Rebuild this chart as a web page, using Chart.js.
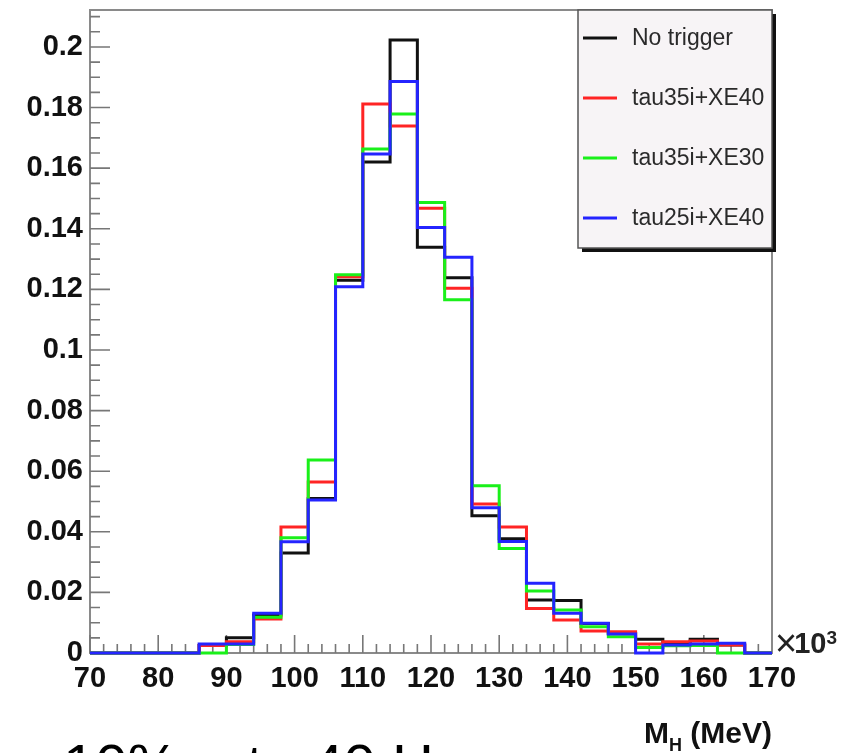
<!DOCTYPE html>
<html>
<head>
<meta charset="utf-8">
<title>M_H distribution by trigger</title>
<script src="https://cdn.jsdelivr.net/npm/chart.js@4.4.1/dist/chart.umd.min.js"></script>
<style>
  html, body { margin: 0; padding: 0; background: #fff; }
  #mh-chart { display: block; }
</style>
</head>
<body>
<canvas id="mh-chart" width="844" height="753"></canvas>
<script>
// Bin edges in units of 10^3 MeV (25 bins, 4 wide)
const binEdges = [70, 74, 78, 82, 86, 90, 94, 98, 102, 106, 110, 114, 118,
                  122, 126, 130, 134, 138, 142, 146, 150, 154, 158, 162, 166, 170];

// Normalised bin contents, one value per bin
const noTrigger = [0, 0, 0, 0, 0.0025, 0.005, 0.0125, 0.033, 0.051, 0.123, 0.162, 0.2023, 0.1339,
                   0.1238, 0.0453, 0.0377, 0.0175, 0.0173, 0.0097, 0.0065, 0.0045, 0.003, 0.0045, 0.0026, 0];
const tau35iXE40 = [0, 0, 0, 0, 0.0025, 0.0037, 0.0112, 0.0416, 0.0564, 0.1242, 0.1812, 0.1739, 0.1468,
                    0.1204, 0.0492, 0.0416, 0.0147, 0.0109, 0.0073, 0.007, 0.003, 0.0037, 0.004, 0.0026, 0];
const tau35iXE30 = [0, 0, 0, 0, 0, 0.0028, 0.0118, 0.038, 0.0637, 0.1248, 0.1663, 0.1779, 0.1487,
                    0.1166, 0.0552, 0.0345, 0.0205, 0.0142, 0.0087, 0.0054, 0.0018, 0.0024, 0.0025, 0, 0];
const tau25iXE40 = [0, 0, 0, 0, 0.003, 0.003, 0.0131, 0.0367, 0.0505, 0.1209, 0.1647, 0.1886, 0.1404,
                    0.1306, 0.0479, 0.0368, 0.023, 0.0131, 0.0098, 0.0063, 0, 0.0026, 0.003, 0.0032, 0];

const seriesLabels = ['No trigger', 'tau35i+XE40', 'tau35i+XE30', 'tau25i+XE40'];
const seriesColors = ['#111111', '#ff2424', '#1af01a', '#2424ff'];
const seriesValues = [noTrigger, tau35iXE40, tau35iXE30, tau25iXE40];

const xTicks = [70, 80, 90, 100, 110, 120, 130, 140, 150, 160, 170];
const yTicks = [0, 0.02, 0.04, 0.06, 0.08, 0.1, 0.12, 0.14, 0.16, 0.18, 0.2];

const FONT = "'Liberation Sans', Arial, Helvetica, sans-serif";
const AXIS_GREY = '#8a8a8a';

// one point per left edge plus the closing right edge, drawn as steps
function histPoints(values) {
  const pts = values.map((v, i) => ({ x: binEdges[i], y: v }));
  pts.push({ x: binEdges[binEdges.length - 1], y: values[values.length - 1] });
  return pts;
}

// ROOT-style ticks pointing into the frame
const innerTicks = {
  id: 'innerTicks',
  beforeDatasetsDraw(chart) {
    const { ctx, chartArea: a, scales: { x, y } } = chart;
    ctx.save();
    ctx.strokeStyle = '#777';
    ctx.lineWidth = 1.6;
    ctx.beginPath();
    for (let v = 70; v <= 170; v += 2) {
      const px = x.getPixelForValue(v);
      const len = v % 10 === 0 ? 18 : 9;
      ctx.moveTo(px, a.bottom);
      ctx.lineTo(px, a.bottom - len);
    }
    for (let k = 0; k <= 42; k++) {
      const py = y.getPixelForValue(k * 0.005);
      const len = k % 4 === 0 ? 20 : 10;
      ctx.moveTo(a.left, py);
      ctx.lineTo(a.left + len, py);
    }
    ctx.stroke();

    // top and right side of the frame
    ctx.strokeStyle = AXIS_GREY;
    ctx.lineWidth = 2;
    ctx.beginPath();
    ctx.moveTo(a.left, a.top);
    ctx.lineTo(a.right, a.top);
    ctx.lineTo(a.right, a.bottom);
    ctx.stroke();
    ctx.restore();
  }
};

// legend box in the top right corner and the axis annotations
const extras = {
  id: 'extras',
  afterDraw(chart) {
    const { ctx, chartArea: a } = chart;
    ctx.save();

    const bx = 578, by = a.top, bw = a.right - 578, bh = 238;
    ctx.fillStyle = '#111';
    ctx.fillRect(bx + 4, by + bh, bw, 4);
    ctx.fillRect(bx + bw, by + 4, 4, bh);
    ctx.fillStyle = '#f7f4f6';
    ctx.fillRect(bx, by, bw, bh);
    ctx.strokeStyle = '#555';
    ctx.lineWidth = 1.5;
    ctx.strokeRect(bx, by, bw, bh);

    ctx.font = '23px ' + FONT;
    ctx.textBaseline = 'middle';
    chart.data.datasets.forEach((ds, i) => {
      const ly = by + 28 + i * 60;
      ctx.strokeStyle = ds.borderColor;
      ctx.lineWidth = 3;
      ctx.beginPath();
      ctx.moveTo(bx + 5, ly);
      ctx.lineTo(bx + 39, ly);
      ctx.stroke();
      ctx.fillStyle = '#2a2a2a';
      ctx.fillText(ds.label, bx + 54, ly + 1);
    });

    // x10^3 exponent next to the x axis
    ctx.fillStyle = '#222';
    ctx.textBaseline = 'alphabetic';
    let tx = a.right + 3;
    ctx.font = '38px ' + FONT;
    ctx.fillText('\u00d7', tx, a.bottom + 3);
    tx += ctx.measureText('\u00d7').width - 3;
    ctx.font = 'bold 29px ' + FONT;
    ctx.fillText('10', tx, a.bottom);
    tx += ctx.measureText('10').width;
    ctx.font = 'bold 19px ' + FONT;
    ctx.fillText('3', tx, a.bottom - 9);

    // axis title M_H (MeV), right aligned with the frame
    ctx.fillStyle = '#111';
    ctx.font = 'bold 30px ' + FONT;
    const rest = ' (MeV)';
    const restW = ctx.measureText(rest).width;
    ctx.fillText(rest, a.right - restW, 743);
    ctx.font = 'bold 18px ' + FONT;
    const hW = ctx.measureText('H').width;
    ctx.fillText('H', a.right - restW - hW, 751);
    ctx.font = 'bold 30px ' + FONT;
    const mW = ctx.measureText('M').width;
    ctx.fillText('M', a.right - restW - hW - mW, 743);

    // slide caption running off the bottom edge
    ctx.font = '58px ' + FONT;
    ctx.fillStyle = '#000';
    ctx.fillText('10% rate 40 Hz', 63, 785);
    ctx.restore();
  }
};

const datasets = seriesValues.map((vals, i) => ({
  label: seriesLabels[i],
  data: histPoints(vals),
  borderColor: seriesColors[i],
  backgroundColor: seriesColors[i],
  borderWidth: 3,
  stepped: 'before',
  pointRadius: 0,
  fill: false,
  clip: 6,
  order: seriesValues.length - i,
}));

new Chart(document.getElementById('mh-chart'), {
  type: 'line',
  data: { datasets },
  options: {
    responsive: false,
    animation: false,
    devicePixelRatio: 1,
    layout: { padding: { top: 10, right: 72, left: 0, bottom: 0 } },
    plugins: {
      legend: { display: false },
      tooltip: { enabled: false },
    },
    scales: {
      x: {
        type: 'linear',
        min: xTicks[0],
        max: xTicks[xTicks.length - 1],
        afterFit: s => {
          s.height = 100;
          s.paddingLeft = 0;
          s.paddingRight = 0;
        },
        afterBuildTicks: s => { s.ticks = xTicks.map(v => ({ value: v })); },
        grid: { drawOnChartArea: false, drawTicks: false },
        border: { display: true, color: AXIS_GREY, width: 2 },
        ticks: {
          padding: 9,
          color: '#111',
          font: { family: FONT, size: 29, weight: 'bold' },
          maxRotation: 0,
          autoSkip: false,
          callback: v => String(v),
        },
      },
      y: {
        type: 'linear',
        min: 0,
        max: 0.2122,
        afterFit: s => {
          s.width = 90;
          s.paddingTop = 0;
          s.paddingBottom = 0;
        },
        afterBuildTicks: s => { s.ticks = yTicks.map(v => ({ value: v })); },
        grid: { drawOnChartArea: false, drawTicks: false },
        border: { display: true, color: AXIS_GREY, width: 2 },
        ticks: {
          padding: 7,
          color: '#111',
          font: { family: FONT, size: 29, weight: 'bold' },
          autoSkip: false,
          callback: v => (v === 0 ? '0' : String(+v.toFixed(3))),
        },
      },
    },
  },
  plugins: [innerTicks, extras],
});
</script>
</body>
</html>
